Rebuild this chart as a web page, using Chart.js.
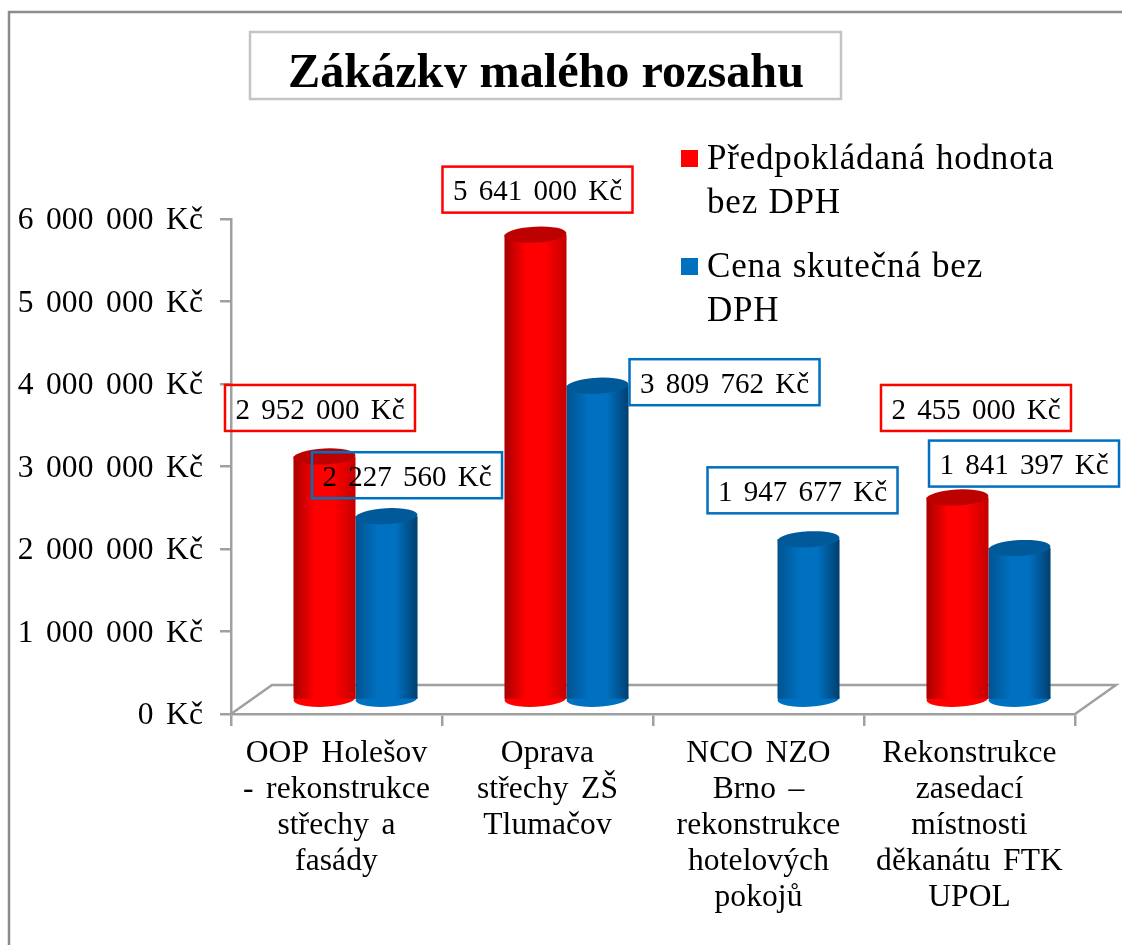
<!DOCTYPE html>
<html>
<head>
<meta charset="utf-8">
<title>Zákázky malého rozsahu</title>
<script src="https://cdn.jsdelivr.net/npm/chart.js@4"></script>
<style>
  html, body { margin: 0; padding: 0; background: #fff; }
  canvas { display: block; }
</style>
</head>
<body>
<canvas id="myChart" width="1122" height="945"></canvas>
<script>
const chartTitle = "Zákázky malého rozsahu";
const categories = [
  ["OOP Holešov", "- rekonstrukce", "střechy a", "fasády"],
  ["Oprava", "střechy ZŠ", "Tlumačov"],
  ["NCO NZO", "Brno –", "rekonstrukce", "hotelových", "pokojů"],
  ["Rekonstrukce", "zasedací", "místnosti", "děkanátu FTK", "UPOL"],
];
const expectedValues = [2952000, 5641000, null, 2455000];
const actualValues = [2227560, 3809762, 1947677, 1841397];
const yTickLabels = [
  "0 Kč",
  "1 000 000 Kč",
  "2 000 000 Kč",
  "3 000 000 Kč",
  "4 000 000 Kč",
  "5 000 000 Kč",
  "6 000 000 Kč",
];
const expectedLegend = ["Předpokládaná hodnota", "bez DPH"];
const actualLegend = ["Cena skutečná bez", "DPH"];

// label box centre relative to the top of its cylinder
const expectedOffsets = [[-4.5, -48.5], [2, -45], null, [18.5, -89.5]];
const actualOffsets = [[20.5, -41], [127, -3.5], [-6, -49], [4.5, -84.5]];

const serif = "'Liberation Serif', 'Times New Roman', serif";
const gray = "#a0a0a0";
const shiftX = 19; // the 3D chart sets the bars back from the axis
const shiftY = -14;
const floorX = 41;
const floorY = -29;
const ellipseH = 8;

function money(v) {
  return String(v).replace(/\B(?=(\d{3})+$)/g, " ") + " Kč";
}

function cylinderFill(stops) {
  return (c) => {
    if (c.dataIndex === undefined) return stops[1];
    const chart = c.chart;
    const half = chart.scales.x.width / 4 * 0.588 / 4;
    const mid = chart.scales.x.getPixelForTick(c.dataIndex) + (c.datasetIndex === 0 ? -half : half);
    if (!isFinite(mid) || !isFinite(half)) return stops[1]; // scales not laid out yet
    const g = chart.ctx.createLinearGradient(mid - half, 0, mid + half, 0);
    g.addColorStop(0, stops[0]);
    g.addColorStop(0.35, stops[1]);
    g.addColorStop(0.65, stops[1]);
    g.addColorStop(1, stops[2]);
    return g;
  };
}

const redStops = ["#a80000", "#ff0000", "#c40000"];
const blueStops = ["#00538f", "#0070c0", "#003f6e"];

function spacing(ctx, letter, word) {
  ctx.letterSpacing = letter + "px";
  ctx.wordSpacing = word + "px";
}

function ellipse(ctx, bar, y, color) {
  ctx.fillStyle = color;
  ctx.beginPath();
  ctx.ellipse(bar.x, y, bar.width / 2, ellipseH, -0.05, 0, Math.PI * 2);
  ctx.fill();
}

const cylinders = {
  id: "cylinders",
  beforeDraw(chart) {
    const ctx = chart.ctx;
    spacing(ctx, 0.1, 4.5);

    // sheet border, only left and top are in the picture
    ctx.save();
    ctx.strokeStyle = "#8c8c8c";
    ctx.lineWidth = 2.5;
    ctx.beginPath();
    ctx.moveTo(9, 945);
    ctx.lineTo(9, 12);
    ctx.lineTo(1122, 12);
    ctx.stroke();
    ctx.restore();
  },
  beforeDatasetsDraw(chart) {
    const { ctx, chartArea: a } = chart;
    ctx.save();
    ctx.strokeStyle = gray;
    ctx.lineWidth = 2.5;
    ctx.beginPath();
    ctx.moveTo(a.left, a.bottom);
    ctx.lineTo(a.left + floorX, a.bottom + floorY);
    ctx.lineTo(a.right + floorX, a.bottom + floorY);
    ctx.lineTo(a.right, a.bottom);
    ctx.stroke();
    ctx.restore();

    ctx.save();
    ctx.translate(shiftX, shiftY);
  },
  beforeDatasetDraw(chart, args) {
    const stops = args.index === 0 ? redStops : blueStops;
    chart.getDatasetMeta(args.index).data.forEach((bar, i) => {
      if (chart.data.datasets[args.index].data[i] === null) return;
      ellipse(chart.ctx, bar, bar.base, stops[1]);
    });
  },
  afterDatasetDraw(chart, args) {
    const top = args.index === 0 ? "#bd0000" : "#005a9a";
    chart.getDatasetMeta(args.index).data.forEach((bar, i) => {
      if (chart.data.datasets[args.index].data[i] === null) return;
      ellipse(chart.ctx, bar, bar.y, top);
    });
  },
  afterDatasetsDraw(chart) {
    chart.ctx.restore();
  },
  afterDraw(chart) {
    const ctx = chart.ctx;
    ctx.save();

    // value labels
    spacing(ctx, 0, 4);
    ctx.font = "29px " + serif;
    ctx.textAlign = "center";
    ctx.textBaseline = "middle";
    ctx.lineWidth = 2.5;
    chart.data.datasets.forEach((ds, d) => {
      chart.getDatasetMeta(d).data.forEach((bar, i) => {
        if (ds.data[i] === null) return;
        const off = ds.labelOffsets[i];
        const cx = bar.x + shiftX + off[0];
        const cy = bar.y + shiftY + off[1];
        ctx.strokeStyle = ds.boxColor;
        ctx.strokeRect(cx - 95, cy - 23, 190, 46);
        ctx.fillStyle = "#000";
        ctx.fillText(money(ds.data[i]), cx, cy + 3);
      });
    });

    // title box, the original crops the text at the bottom
    ctx.strokeStyle = "#c4c4c4";
    ctx.lineWidth = 2.5;
    ctx.strokeRect(250, 32, 591, 67);
    ctx.save();
    ctx.beginPath();
    ctx.rect(251, 33, 589, 55);
    ctx.clip();
    spacing(ctx, 0, 0);
    ctx.font = "bold 48.2px " + serif;
    ctx.textBaseline = "alphabetic";
    ctx.fillStyle = "#000";
    ctx.fillText(chartTitle, 546, 87);
    ctx.restore();

    // legend
    ctx.textAlign = "left";
    ctx.textBaseline = "alphabetic";
    spacing(ctx, 0.8, 1);
    ctx.font = "35px " + serif;
    const rows = [
      [expectedLegend, "#ff0000", 169],
      [actualLegend, "#0070c0", 277],
    ];
    rows.forEach(([lines, color, y]) => {
      ctx.fillStyle = color;
      ctx.fillRect(681, y - 19, 17, 17);
      ctx.fillStyle = "#000";
      lines.forEach((line, i) => ctx.fillText(line, 707, y + i * 44));
    });
    ctx.restore();
  },
};

new Chart("myChart", {
  type: "bar",
  plugins: [cylinders],
  data: {
    labels: categories,
    datasets: [
      {
        label: expectedLegend.join(" "),
        data: expectedValues,
        backgroundColor: cylinderFill(redStops),
        boxColor: "#ff0000",
        labelOffsets: expectedOffsets,
        clip: false,
      },
      {
        label: actualLegend.join(" "),
        data: actualValues,
        backgroundColor: cylinderFill(blueStops),
        boxColor: "#0070c0",
        labelOffsets: actualOffsets,
        clip: false,
      },
    ],
  },
  options: {
    responsive: false,
    animation: false,
    categoryPercentage: 0.588,
    barPercentage: 1,
    layout: { padding: { top: 219, right: 47, left: 0, bottom: 0 } },
    plugins: {
      legend: { display: false },
      title: { display: false },
      tooltip: { enabled: false },
    },
    scales: {
      x: {
        afterFit: (s) => { s.height = 231; },
        border: { color: gray, width: 2.5 },
        grid: { drawOnChartArea: false, color: gray, tickLength: 12, lineWidth: 2.5 },
        ticks: {
          color: "#000",
          autoSkip: false,
          maxRotation: 0,
          padding: 10,
          font: { family: serif, size: 31.5, lineHeight: 1.143 },
        },
      },
      y: {
        min: 0,
        max: 6000000,
        afterFit: (s) => { s.width = 231; },
        border: { color: gray, width: 2.5 },
        grid: { drawOnChartArea: false, color: gray, tickLength: 11, lineWidth: 2.5 },
        ticks: {
          stepSize: 1000000,
          color: "#000",
          padding: 17,
          labelOffset: 2,
          font: { family: serif, size: 31.5 },
          callback: function (value, index) {
            return yTickLabels[index];
          },
        },
      },
    },
  },
});
</script>
</body>
</html>
